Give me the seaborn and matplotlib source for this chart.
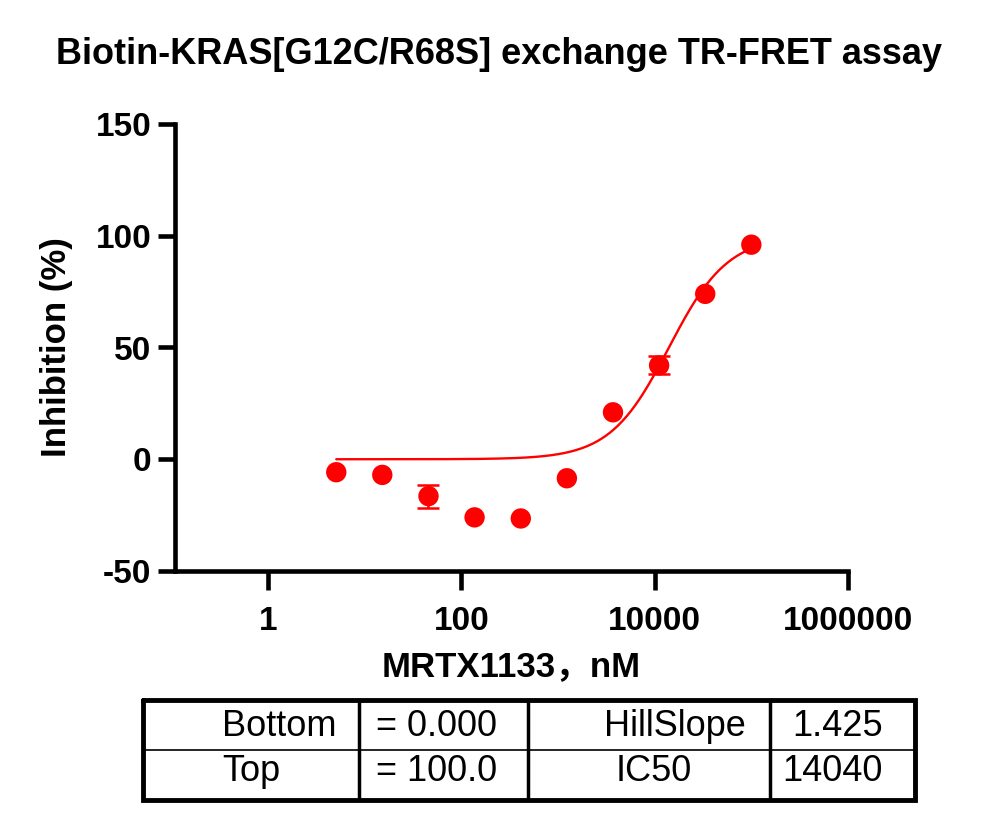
import numpy as np
import pandas as pd
import seaborn as sns
import matplotlib
matplotlib.use("Agg")
import matplotlib.pyplot as plt

# measured points (3-fold dilution series, nM)
conc_nM = [5.08, 15.2, 45.7, 137, 412, 1235, 3704, 11111, 33333, 100000]
inhibition = [-5.8, -7.0, -16.5, -26.0, -26.5, -8.5, 21.0, 42.0, 74.0, 96.0]
inhibition_err = [0.0, 0.0, 5.2, 0.0, 0.0, 0.0, 0.0, 4.0, 0.0, 0.0]

# fit parameters shown in the table
fit_bottom = 0.0
fit_top = 100.0
fit_hill = 1.425
fit_ic50 = 14040

table_rows = [["Bottom", "= 0.000", "HillSlope", "1.425"],
              ["Top", "= 100.0", "IC50", "14040"]]

RED = "#ff0000"

sns.set_theme(style="ticks")
plt.rcParams["font.family"] = ["Liberation Sans", "Noto Sans CJK SC", "DejaVu Sans"]
plt.rcParams["axes.unicode_minus"] = False
plt.rcParams["text.color"] = "black"
plt.rcParams["xtick.color"] = "black"
plt.rcParams["ytick.color"] = "black"
plt.rcParams["axes.labelcolor"] = "black"

fig = plt.figure(figsize=(9.97, 8.21), dpi=100)
ax = fig.add_axes([175 / 997, 250 / 821, 673 / 997, 447 / 821])

df = pd.DataFrame({"conc": conc_nM, "inh": inhibition, "err": inhibition_err})

# fitted 4PL curve across the measured range
curve_x = np.logspace(np.log10(min(conc_nM)), np.log10(max(conc_nM)), 300)
curve_y = fit_bottom + (fit_top - fit_bottom) / (1 + (fit_ic50 / curve_x) ** fit_hill)
sns.lineplot(x=curve_x, y=curve_y, color=RED, lw=1.7, ax=ax)

with_err = df[df.err > 0]
ax.errorbar(with_err.conc, with_err.inh, yerr=with_err.err, fmt="none",
            ecolor=RED, elinewidth=1.8, capsize=8, capthick=1.8, zorder=3)
sns.scatterplot(data=df, x="conc", y="inh", color=RED, s=215,
                edgecolor="none", ax=ax, zorder=4)

ax.set_xscale("log")
ax.set_xlim(0.109, 1e6)
ax.set_ylim(-50, 150)
ax.set_xticks([1, 100, 10000, 1000000])
ax.set_xticklabels(["1", "100", "10000", "1000000"])
ax.xaxis.set_minor_locator(matplotlib.ticker.NullLocator())
ax.set_yticks([-50, 0, 50, 100, 150])

sns.despine(ax=ax)
for side in ["left", "bottom"]:
    ax.spines[side].set_linewidth(3.3)
    ax.spines[side].set_color("black")
ax.tick_params(axis="y", length=12, width=3.3, labelsize=24, pad=5)
ax.tick_params(axis="x", length=14, width=3.3, labelsize=24, pad=11)
for lab in ax.get_xticklabels() + ax.get_yticklabels():
    lab.set_fontweight("bold")

ax.set_xlabel("MRTX1133，nM", fontsize=25, fontweight="bold")
ax.set_ylabel("Inhibition (%)", fontsize=25, fontweight="bold")
ax.xaxis.set_label_coords(0.5, -0.177)
ax.yaxis.set_label_coords(-0.152, 0.5)

fig.suptitle("Biotin-KRAS[G12C/R68S] exchange TR-FRET assay",
             fontsize=26, fontweight="bold", y=0.955)

# parameter table under the plot
tax = fig.add_axes([143 / 997, 21 / 821, 772 / 997, 100 / 821])
tax.set_xlim(143, 915)
tax.set_ylim(800, 700)
tax.axis("off")
tax.plot([143, 915, 915, 143, 143], [700, 700, 800, 800, 700],
         color="black", lw=3.5, solid_joinstyle="miter", clip_on=False)
for xv in [359, 528, 770]:
    tax.plot([xv, xv], [700, 800], color="black", lw=2.5, clip_on=False)
tax.plot([143, 915], [750, 750], color="black", lw=1.2, clip_on=False)

col_x = [222, 376, None, 883]
col3_x = [604, 616]
baselines = [736, 781]
for r, row in enumerate(table_rows):
    y = baselines[r]
    tax.text(col_x[0], y, row[0], fontsize=26, ha="left", va="baseline")
    tax.text(col_x[1], y, row[1], fontsize=26, ha="left", va="baseline")
    tax.text(col3_x[r], y, row[2], fontsize=26, ha="left", va="baseline")
    tax.text(col_x[3], y, row[3], fontsize=26, ha="right", va="baseline")

fig.savefig("out.png", dpi=100)
